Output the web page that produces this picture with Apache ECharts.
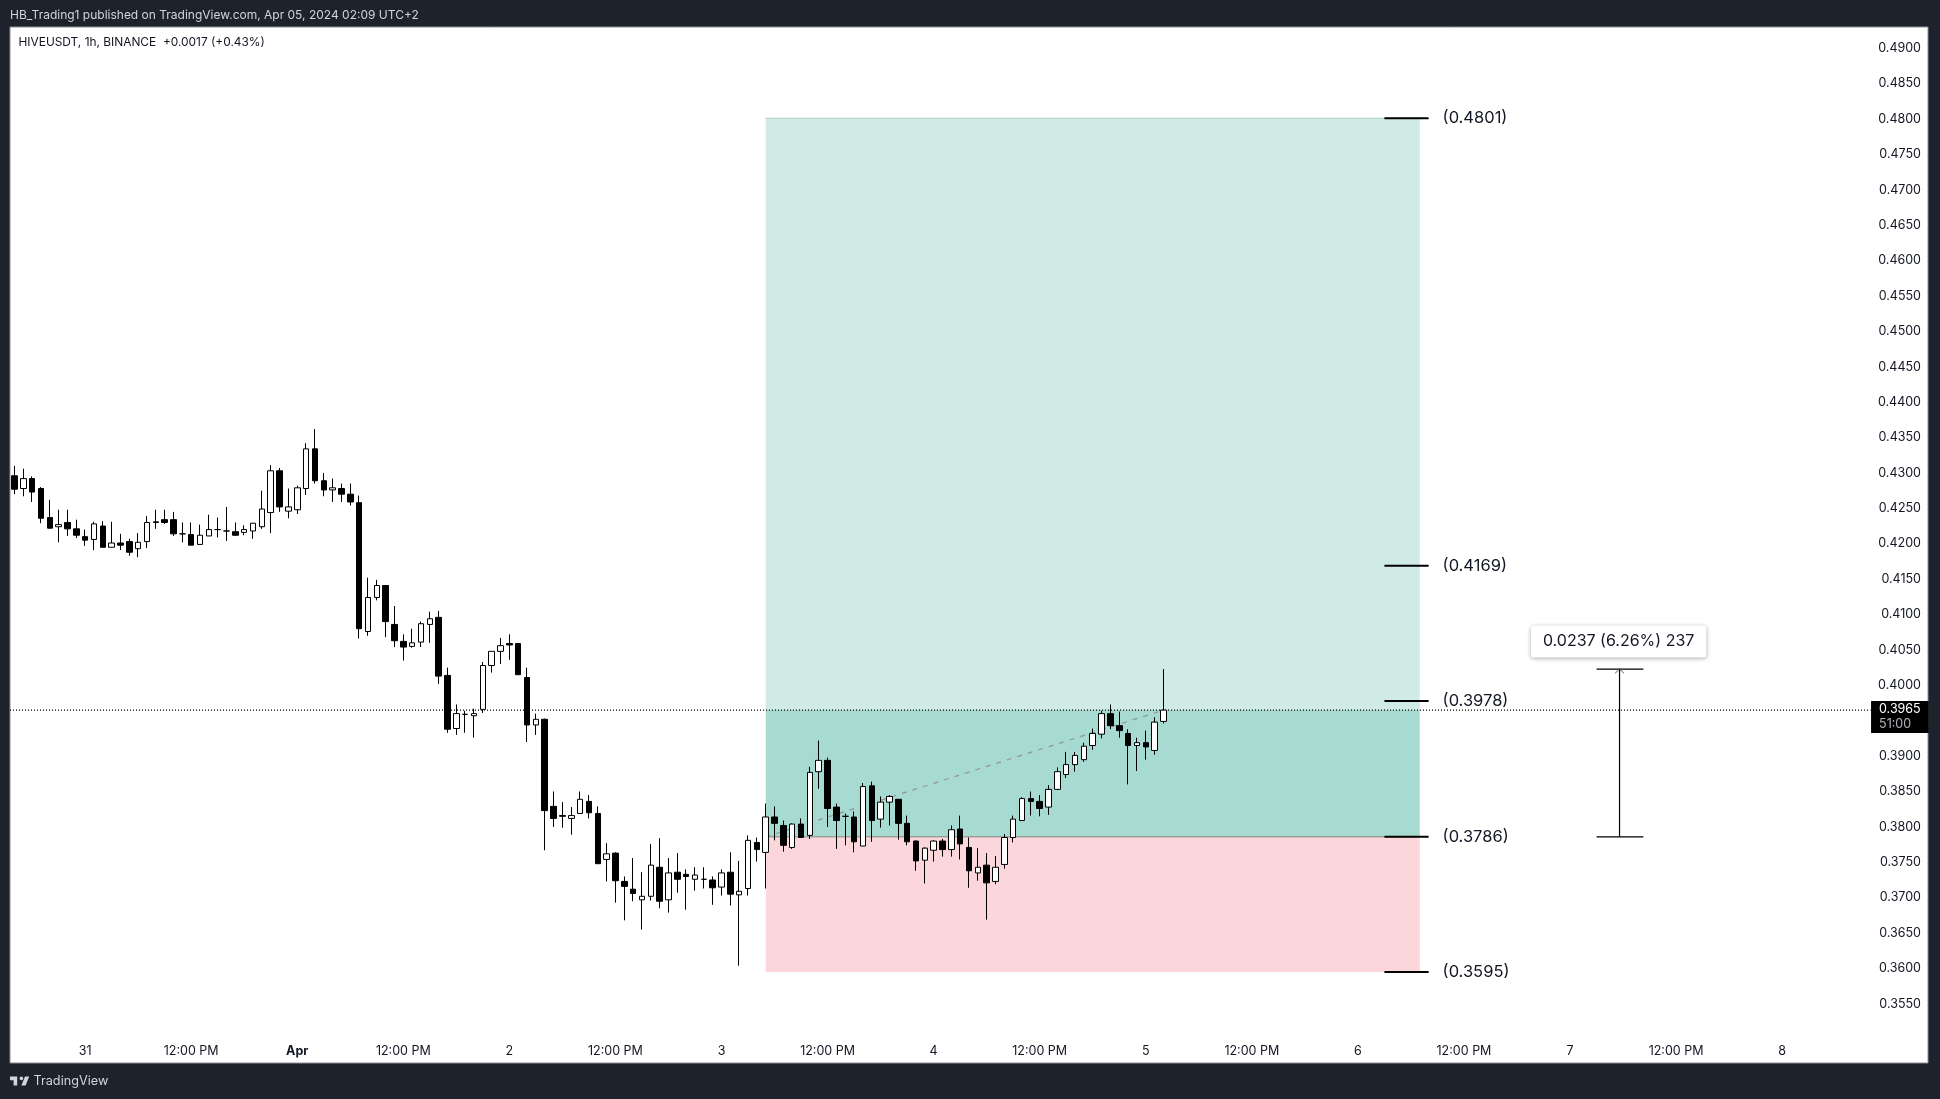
<!DOCTYPE html>
<html>
<head>
<meta charset="utf-8">
<title>HIVEUSDT, 1h, BINANCE</title>
<script src="https://cdn.jsdelivr.net/npm/echarts@6/dist/echarts.min.js"></script>
<style>
html, body { margin: 0; height: 100%; background: #1e222d; overflow: hidden; }
#chart-container { width: 100%; height: 100%; }
</style>
</head>
<body>
<div id="chart-container"></div>
<script>
// hourly candles, first one is Mar 30 16:00
let opens = [
    .4296,.4278,.4292,.4278,.4237,.4224,.4230,.4221,.4210,.4206,
    .4225,.4195,.4201,.4203,.4193,.4203,.4230,.4234,.4234,.4214,
    .4213,.4199,.4211,.4220,.4218,.4217,.4216,.4218,.4224,.4244,
    .4303,.4246,.4248,.4278,.4334,.4289,.4276,.4278,.4270,.4258,
    .4076,.4124,.4141,.4086,.4062,.4055,.4061,.4086,.4096,.4014,
    .3939,.3959,.3957,.3966,.4028,.4048,.4059,.4059,.4011,.3944,
    .3952,.3829,.3816,.3812,.3819,.3836,.3819,.3754,.3763,.3723,
    .3712,.3697,.3702,.3743,.3697,.3736,.3733,.3726,.3726,.3725,
    .3715,.3736,.3704,.3713,.3778,.3764,.3814,.3802,.3771,.3804,
    .3788,.3878,.3894,.3828,.3815,.3814,.3773,.3858,.3811,.3835,
    .3839,.3805,.3780,.3753,.3767,.3780,.3768,.3797,.3771,.3735,
    .3746,.3723,.3747,.3785,.3809,.3840,.3836,.3828,.3853,.3874,
    .3888,.3895,.3915,.3931,.3960,.3943,.3932,.3915,.3919,.3908,.3949
];
let closes = [
    .4277,.4292,.4273,.4236,.4222,.4227,.4221,.4212,.4205,.4228,
    .4195,.4201,.4198,.4188,.4202,.4230,.4231,.4230,.4214,.4214,
    .4198,.4212,.4220,.4220,.4218,.4212,.4220,.4229,.4249,.4303,
    .4252,.4252,.4279,.4334,.4289,.4276,.4279,.4270,.4259,.4080,
    .4124,.4141,.4090,.4063,.4054,.4060,.4087,.4094,.4013,.3938,
    .3960,.3959,.3960,.4028,.4048,.4056,.4057,.4015,.3944,.3952,
    .3823,.3812,.3815,.3816,.3839,.3820,.3748,.3762,.3724,.3716,
    .3706,.3702,.3746,.3695,.3735,.3726,.3730,.3732,.3726,.3714,
    .3735,.3705,.3709,.3781,.3768,.3814,.3805,.3774,.3804,.3785,
    .3877,.3894,.3826,.3809,.3815,.3779,.3857,.3809,.3835,.3843,
    .3805,.3779,.3752,.3770,.3780,.3768,.3796,.3776,.3738,.3743,
    .3721,.3743,.3785,.3811,.3840,.3836,.3826,.3853,.3878,.3888,
    .3901,.3914,.3932,.3960,.3943,.3936,.3915,.3919,.3913,.3948,.3965
];
let lows = [
    .4270,.4267,.4259,.4229,.4221,.4202,.4211,.4208,.4197,.4191,
    .4195,.4195,.4191,.4183,.4181,.4194,.4221,.4228,.4211,.4202,
    .4198,.4199,.4211,.4209,.4204,.4211,.4212,.4207,.4221,.4215,
    .4245,.4236,.4242,.4269,.4285,.4267,.4259,.4259,.4254,.4066,
    .4070,.4120,.4068,.4054,.4035,.4053,.4054,.4060,.4002,.3933,
    .3930,.3933,.3926,.3961,.4018,.4030,.4036,.4015,.3920,.3930,
    .3767,.3800,.3799,.3789,.3819,.3812,.3748,.3723,.3693,.3668,
    .3695,.3655,.3696,.3685,.3679,.3707,.3683,.3710,.3713,.3690,
    .3703,.3689,.3604,.3703,.3751,.3713,.3781,.3765,.3769,.3785,
    .3783,.3854,.3800,.3769,.3774,.3764,.3773,.3779,.3799,.3802,
    .3782,.3774,.3738,.3720,.3751,.3758,.3758,.3754,.3714,.3724,
    .3669,.3719,.3741,.3778,.3809,.3816,.3815,.3817,.3852,.3869,
    .3878,.3892,.3909,.3925,.3938,.3926,.3860,.3879,.3895,.3902,.3946
];
let highs = [
    .4310,.4306,.4295,.4280,.4262,.4248,.4248,.4234,.4220,.4231,
    .4232,.4231,.4214,.4207,.4215,.4239,.4248,.4248,.4245,.4230,
    .4230,.4227,.4241,.4237,.4252,.4230,.4226,.4229,.4275,.4311,
    .4307,.4278,.4282,.4342,.4362,.4300,.4292,.4285,.4285,.4268,
    .4152,.4149,.4141,.4112,.4072,.4080,.4090,.4104,.4105,.4025,
    .3973,.3964,.3967,.4033,.4048,.4067,.4072,.4059,.4025,.3960,
    .3953,.3850,.3835,.3828,.3850,.3845,.3829,.3777,.3764,.3730,
    .3756,.3736,.3776,.3784,.3756,.3763,.3740,.3743,.3743,.3730,
    .3740,.3764,.3752,.3788,.3785,.3833,.3829,.3809,.3805,.3812,
    .3885,.3922,.3898,.3833,.3819,.3822,.3862,.3864,.3843,.3845,
    .3839,.3816,.3781,.3771,.3781,.3783,.3802,.3816,.3785,.3770,
    .3763,.3759,.3790,.3816,.3842,.3850,.3845,.3859,.3884,.3906,
    .3906,.3919,.3939,.3964,.3973,.3963,.3938,.3926,.3936,.3955,.4023
];
let timeLabels = ['31', '12:00 PM', 'Apr', '12:00 PM', '2', '12:00 PM', '3', '12:00 PM', '4', '12:00 PM', '5', '12:00 PM', '6', '12:00 PM', '7', '12:00 PM', '8'];
let priceTicks = [.355, .36, .365, .37, .375, .38, .385, .39, .395, .4, .405, .41, .415, .42, .425, .43, .435, .44, .445, .45, .455, .46, .465, .47, .475, .48, .485, .49];
let levels = [.4801, .4169, .3978, .3786, .3595];

let lastPrice = .3965;
let entry = .3786;
let target = .4801;
let stop = .3595;
let measureTop = .4023;
let barCount = 217;
let firstLabelBar = 8;
let zoneStart = 85;
let zoneEnd = 159;
let arrowBar = 181.6;

let ink = '#131722';
let uiFont = 'Inter';

let dom = document.getElementById('chart-container');
let myChart = echarts.init(dom, null, { renderer: 'canvas' });

let categories = [];
for (let i = 0; i < barCount; i++) {
    let k = (i - firstLabelBar) / 12;
    categories.push(Number.isInteger(k) && timeLabels[k] ? i + '|' + timeLabels[k] : String(i));
}
let candles = opens.map(function(o, i) {
    return [o, closes[i], lows[i], highs[i]];
});

// helper for the drawing tools, they sit on the hidden value axis so they can use half bars
function tool(points, color, width, type, z) {
    return {
        type: 'line',
        xAxisIndex: 1,
        data: points,
        showSymbol: false,
        silent: true,
        z: z || 4,
        animation: false,
        lineStyle: { color: color, width: width, type: type || 'solid' }
    };
}

let levelSeries = levels.map(function(l) {
    let s = tool([[155, l], [160, l]], '#000000', 2, 'solid', 6);
    s.endLabel = {
        show: true,
        formatter: '(' + l.toFixed(4) + ')',
        distance: 14,
        fontFamily: uiFont,
        fontSize: 16.5,
        color: ink
    };
    return s;
});

let zoneSeries = tool([], ink, 1);
zoneSeries.z = 1;
zoneSeries.markArea = {
    silent: true,
    animation: false,
    data: [
        [{ coord: [zoneStart, target], itemStyle: { color: '#d0ebe5' } }, { coord: [zoneEnd, lastPrice] }],
        [{ coord: [zoneStart, lastPrice], itemStyle: { color: '#a7dbd2' } }, { coord: [zoneEnd, entry] }],
        [{ coord: [zoneStart, entry], itemStyle: { color: '#fbd6da' } }, { coord: [zoneEnd, stop] }]
    ]
};

let option = {
    backgroundColor: '#1e222d',
    animation: false,
    title: [
        { text: 'HB_Trading1 published on TradingView.com, Apr 05, 2024 02:09 UTC+2', left: 10, top: 9.5, padding: 0, textStyle: { color: '#d1d4dc', fontSize: 12, fontWeight: 'normal', fontFamily: uiFont } },
        { text: 'HIVEUSDT, 1h, BINANCE  +0.0017 (+0.43%)', left: 18.5, top: 36, padding: 0, textStyle: { color: ink, fontSize: 11.9, fontWeight: 'normal', fontFamily: uiFont } },
        { text: 'TradingView', left: 33.5, top: 1075, padding: 0, textStyle: { color: '#d1d4dc', fontSize: 12.7, fontWeight: 'normal', fontFamily: uiFont } }
    ],
    // TV logo
    graphic: [{
        type: 'group',
        x: 8.8,
        y: 1073,
        scaleX: 0.6,
        scaleY: 0.6,
        children: [
            { type: 'polygon', shape: { points: [[14, 6], [2, 6], [2, 12], [8, 12], [8, 21], [14, 21]] }, style: { fill: '#d1d4dc' } },
            { type: 'polygon', shape: { points: [[28, 21], [21, 21], [27, 6], [34, 6]] }, style: { fill: '#d1d4dc' } },
            { type: 'circle', shape: { cx: 21, cy: 9, r: 3 }, style: { fill: '#d1d4dc' } }
        ]
    }],
    grid: {
        show: true,
        left: 10,
        right: 12,
        top: 27,
        bottom: 36,
        backgroundColor: '#ffffff',
        borderColor: '#8b8e96',
        borderWidth: 1
    },
    xAxis: [
        {
            type: 'category',
            data: categories,
            boundaryGap: true,
            axisLine: { show: false },
            axisTick: { show: false },
            splitLine: { show: false },
            axisLabel: {
                inside: true,
                interval: 0,
                margin: 5,
                hideOverlap: false,
                color: ink,
                fontFamily: uiFont,
                fontSize: 12.5,
                formatter: function(v) {
                    let t = v.split('|')[1];
                    if(!t) return '';
                    return t === 'Apr' ? '{b|Apr}' : t;
                },
                rich: { b: { fontWeight: 'bold', fontFamily: uiFont, fontSize: 12.5, color: ink } }
            }
        },
        {
            type: 'value',
            min: -0.5,
            max: barCount - 0.5,
            show: false,
            splitLine: { show: false }
        }
    ],
    yAxis: {
        type: 'value',
        position: 'right',
        min: 0.34665,
        max: 0.49299,
        axisLine: { show: false },
        axisTick: { show: false },
        splitLine: { show: false },
        axisLabel: {
            inside: true,
            margin: 7,
            customValues: priceTicks,
            color: ink,
            fontFamily: uiFont,
            fontSize: 12.5,
            formatter: function(v) { return v.toFixed(4); }
        }
    },
    series: [
        zoneSeries,
        tool([[zoneStart, target], [zoneEnd, target]], '#a9cfc7', 1, 'solid', 2),
        tool([[zoneStart, entry], [zoneEnd, entry]], '#7f8084', 1, 'solid', 2),
        tool([[zoneStart, entry], [130, lastPrice]], '#8f9696', 1.2, [5, 6], 2),
        tool([[-0.5, lastPrice], [210, lastPrice]], '#000000', 1.3, [1, 2], 2),
        {
            type: 'candlestick',
            xAxisIndex: 0,
            data: candles,
            barWidth: 6,
            z: 3,
            silent: true,
            itemStyle: {
                color: '#ffffff',
                color0: '#000000',
                borderColor: '#000000',
                borderColor0: '#000000',
                borderWidth: 1
            }
        }
    ].concat(levelSeries, [
        tool([[arrowBar, entry], [arrowBar, measureTop]], '#000000', 1.2),
        tool([[179, entry], [184.3, entry]], '#000000', 1.2),
        tool([[179, measureTop], [184.3, measureTop]], '#000000', 1.2),
        tool([[arrowBar - 0.5, measureTop - 0.0006], [arrowBar, measureTop], [arrowBar + 0.5, measureTop - 0.0006]], '#555a66', 1),
        {
            type: 'scatter',
            xAxisIndex: 1,
            symbolSize: 1,
            silent: true,
            z: 8,
            itemStyle: { color: 'transparent', opacity: 1 },
            data: [[arrowBar - 0.1, measureTop]],
            label: {
                show: true,
                position: 'top',
                distance: 11,
                formatter: '0.0237 (6.26%) 237',
                fontFamily: uiFont,
                fontSize: 16,
                color: ink,
                backgroundColor: '#ffffff',
                borderRadius: 3,
                padding: [8, 12, 8, 12],
                shadowColor: 'rgba(0,0,0,0.35)',
                shadowBlur: 4,
                shadowOffsetY: 1
            }
        },
        {
            type: 'scatter',
            xAxisIndex: 1,
            symbolSize: 1,
            silent: true,
            z: 8,
            itemStyle: { color: 'transparent', opacity: 1 },
            data: [[210, lastPrice]],
            label: {
                show: true,
                position: 'right',
                distance: 0,
                offset: [0, 7],
                formatter: '{p|' + lastPrice.toFixed(4) + '}\n{t|51:00}',
                backgroundColor: '#000000',
                padding: [1, 8, 1, 8],
                rich: {
                    p: { color: '#ffffff', fontFamily: uiFont, fontSize: 12.5, lineHeight: 15 },
                    t: { color: '#b2b5be', fontFamily: uiFont, fontSize: 12.5, lineHeight: 15 }
                }
            }
        }
    ])
};

if(option && typeof option === 'object') {
    myChart.setOption(option);
}

window.addEventListener('resize', myChart.resize);
</script>
</body>
</html>
